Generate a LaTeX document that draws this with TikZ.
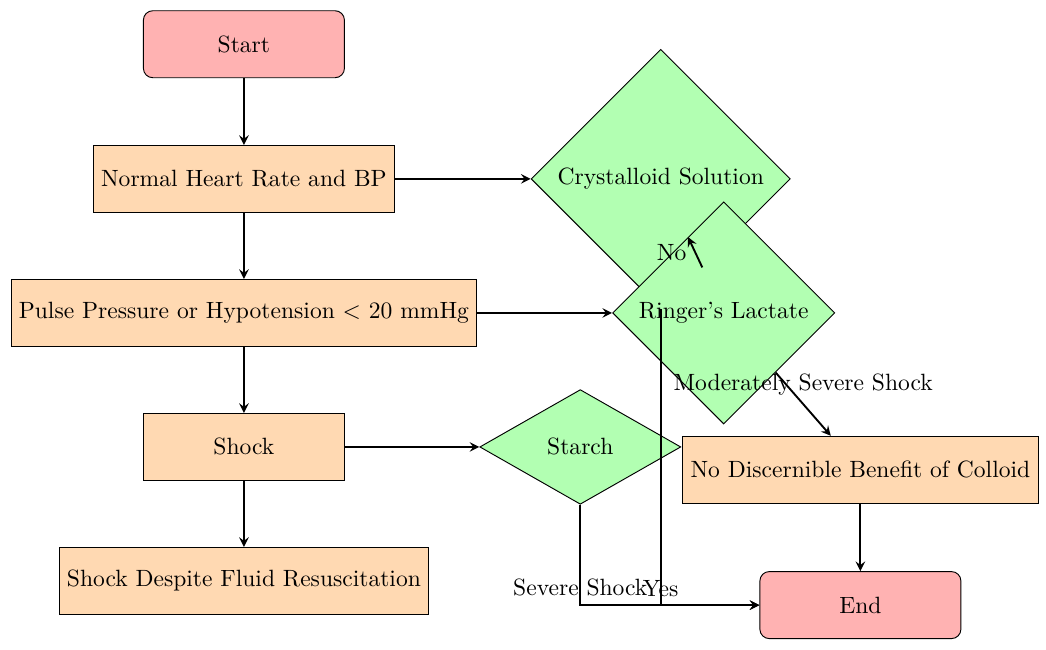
\documentclass[tikz,border=0pt]{standalone}
\usetikzlibrary{shapes.geometric,arrows}
\tikzset{
  startstop/.style={rectangle, rounded corners, minimum width=3cm, minimum height=1cm, text centered, draw=black, fill=red!30},
  process/.style={rectangle, minimum width=3cm, minimum height=1cm, text centered, draw=black, fill=orange!30},
  decision/.style={diamond, minimum width=3cm, minimum height=1cm, text centered, draw=black, fill=green!30},
  arrow/.style={thick,->,>=stealth}
}
\begin{document}
\begin{tikzpicture}
  \useasboundingbox (0,0) rectangle (15.61,-9.70);
  \node (start) [startstop] at (3.64,-0.66) {Start};
  \node (normal) [process] at (3.64,-2.67) {Normal Heart Rate and BP};
  \node (pulse) [process] at (3.64,-4.67) {Pulse Pressure or Hypotension $<$ 20 mmHg};
  \node (shock) [process] at (3.64,-6.67) {Shock};
  \node (despite) [process] at (3.64,-8.67) {Shock Despite Fluid Resuscitation};
  \node (crystal) [decision] at (9.86,-2.67) {Crystalloid Solution};
  \node (ringer) [decision] at (10.80,-4.67) {Ringer's Lactate};
  \node (starch) [decision] at (8.66,-6.67) {Starch};
  \node (nobenefit) [process] at (12.84,-7.01) {No Discernible Benefit of Colloid};
  \node (end) [startstop] at (12.84,-9.03) {End};
  \foreach \a/\b in {start/normal,normal/pulse,pulse/shock,shock/despite,
                     normal/crystal,pulse/ringer,shock/starch,nobenefit/end}
    \draw [arrow] (\a) -- (\b);
  \draw [arrow] (crystal) -- node[left] {No} (ringer);
  \draw [arrow] (crystal) |- node[above] {Yes} (end);
  \draw [arrow] (ringer) -- node[above] {Moderately Severe Shock} (nobenefit);
  \draw [arrow] (starch) |- node[above] {Severe Shock} (end);
\end{tikzpicture}
\end{document}
